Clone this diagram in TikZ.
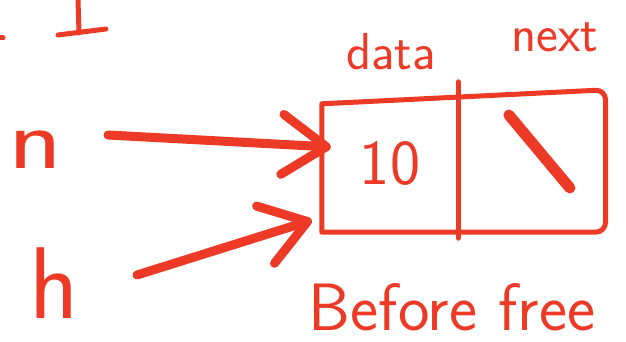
\documentclass[tikz,border=0pt]{standalone}
\usetikzlibrary{arrows.meta,positioning,calc}
\definecolor{InkRed}{HTML}{EC3A27}
\begin{document}
\begin{tikzpicture}[x=1pt, y=-1pt,
  pen/.style={draw=InkRed, line width=5pt, line cap=round, line join=round},
  ptr/.style={pen, line width=9pt, -{Straight Barb[round, length=44pt, width=60pt]}},
  cell/.style={minimum width=136pt, minimum height=136pt, inner sep=0pt,
               text=InkRed, font=\sffamily\fontsize{64}{64}\selectfont},
  lbl/.style={text=InkRed, anchor=base, inner sep=0pt, font=\sffamily\fontsize{52}{52}\selectfont},
  var/.style={text=InkRed, anchor=base, inner sep=0pt}]
  \useasboundingbox (0,0) rectangle (626,342);
  % node: data | next
  \node[cell] (data) at (390,164) {10};
  \node[cell, right=0pt of data, minimum width=147pt] (next) {};
  \node[lbl] (datalbl) at (391,70) {data};
  \node[lbl] (nextlbl) at (555,52) {next};
  \draw[pen] ([yshift=-8pt]data.north west) [rounded corners=10pt] -- ([yshift=6pt]next.north east)
    -- (next.south east) [sharp corners] -- (data.south west) -- cycle;
  \draw[pen] ([yshift=14pt]data.north east) -- ([yshift=-6pt]data.south east);
  \draw[pen, line width=11pt] ($(next.center)+(-23,-49)$) -- ($(next.center)+(38,24)$);
  % pointers
  \node[var, font=\sffamily\fontsize{86}{86}\selectfont, xscale=1.3] (n) at (36,168) {n};
  \node[var, font=\sffamily\fontsize{102}{102}\selectfont] (h) at (54,318) {h};
  \coordinate (ntail) at (108,135);
  \coordinate (htail) at (137,275);
  \draw[ptr] (ntail) -- ([shift={(9pt,17pt)}]data.west);
  \draw[ptr] (htail) -- ([shift={(-10pt,12pt)}]data.south west);
  \node[var, font=\sffamily\fontsize{67}{67}\selectfont] (caption) at (452,330) {Before free};
  % cut-off strokes at the top
  \draw[pen] (78,0) -- (79,33);
  \draw[pen] (58,35) -- (106,29);
  \draw[pen] (0,38) -- (3,38);
\end{tikzpicture}
\end{document}
